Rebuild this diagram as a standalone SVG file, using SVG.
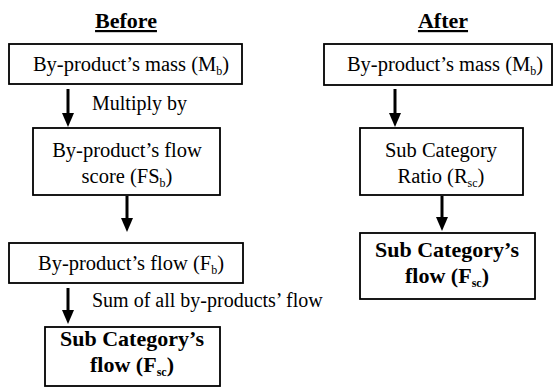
<svg xmlns="http://www.w3.org/2000/svg" width="553" height="391" viewBox="0 0 553 391" font-family="'Liberation Serif', 'DejaVu Serif', serif">
  <style>
    .box { fill: #ffffff; stroke: #000000; stroke-width: 1.8; }
    text { font-family: "Liberation Serif", "DejaVu Serif", serif; font-size: 20.5px; fill: #000000; text-anchor: middle; }
    .title { font-size: 22px; font-weight: bold; text-decoration: underline; }
    .bold { font-weight: bold; font-size: 22px; }
    .lbl { text-anchor: start; font-size: 20px; }
    .sub { font-size: 12px; }
    .arrow { stroke: #000000; stroke-width: 3; fill: none; marker-end: url(#head); }
  </style>
  <defs>
    <marker id="head" markerUnits="userSpaceOnUse" markerWidth="14" markerHeight="12" refX="0" refY="6" orient="auto">
      <path d="M0,0 L14,6 L0,12 z" fill="#000000"/>
    </marker>
  </defs>

  <rect width="553" height="391" fill="#ffffff"/>

  <!-- column headings -->
  <text class="title" x="126" y="28">Before</text>
  <text class="title" x="443" y="28">After</text>

  <!-- Before column -->
  <g id="before-mass">
    <rect class="box" x="9" y="44" width="233" height="40"/>
    <text x="131" y="71">By-product’s mass (M<tspan class="sub" dy="4">b</tspan><tspan dy="-4">)</tspan></text>
  </g>
  <g id="before-score">
    <rect class="box" x="33" y="128" width="187" height="67"/>
    <text x="127" y="157">By-product’s flow</text>
    <text x="127" y="183">score (FS<tspan class="sub" dy="4">b</tspan><tspan dy="-4">)</tspan></text>
  </g>
  <g id="before-flow">
    <rect class="box" x="9" y="243" width="234" height="40"/>
    <text x="131" y="270">By-product’s flow (F<tspan class="sub" dy="4">b</tspan><tspan dy="-4">)</tspan></text>
  </g>
  <g id="before-subcat">
    <rect class="box" x="45" y="327" width="175" height="59"/>
    <text class="bold" x="132" y="346">Sub Category’s</text>
    <text class="bold" x="132" y="372">flow (F<tspan class="sub" dy="4">sc</tspan><tspan dy="-4">)</tspan></text>
  </g>

  <!-- After column -->
  <g id="after-mass">
    <rect class="box" x="324" y="44" width="228" height="41"/>
    <text x="445" y="71">By-product’s mass (M<tspan class="sub" dy="4">b</tspan><tspan dy="-4">)</tspan></text>
  </g>
  <g id="after-ratio">
    <rect class="box" x="360" y="128" width="163" height="67"/>
    <text x="441" y="157">Sub Category</text>
    <text x="441" y="183">Ratio (R<tspan class="sub" dy="4">sc</tspan><tspan dy="-4">)</tspan></text>
  </g>
  <g id="after-subcat">
    <rect class="box" x="360" y="233" width="175" height="66"/>
    <text class="bold" x="447" y="257">Sub Category’s</text>
    <text class="bold" x="447" y="283">flow (F<tspan class="sub" dy="4">sc</tspan><tspan dy="-4">)</tspan></text>
  </g>

  <!-- connectors -->
  <g id="connectors">
    <line class="arrow" x1="68" y1="89" x2="68" y2="113"/>
    <text class="lbl" x="92" y="110">Multiply by</text>
    <line class="arrow" x1="127" y1="196" x2="127" y2="218"/>
    <line class="arrow" x1="68" y1="288" x2="68" y2="310"/>
    <text class="lbl" x="92" y="307">Sum of all by-products’ flow</text>
    <line class="arrow" x1="395" y1="89" x2="395" y2="113"/>
    <line class="arrow" x1="442" y1="196" x2="442" y2="217"/>
  </g>
</svg>
